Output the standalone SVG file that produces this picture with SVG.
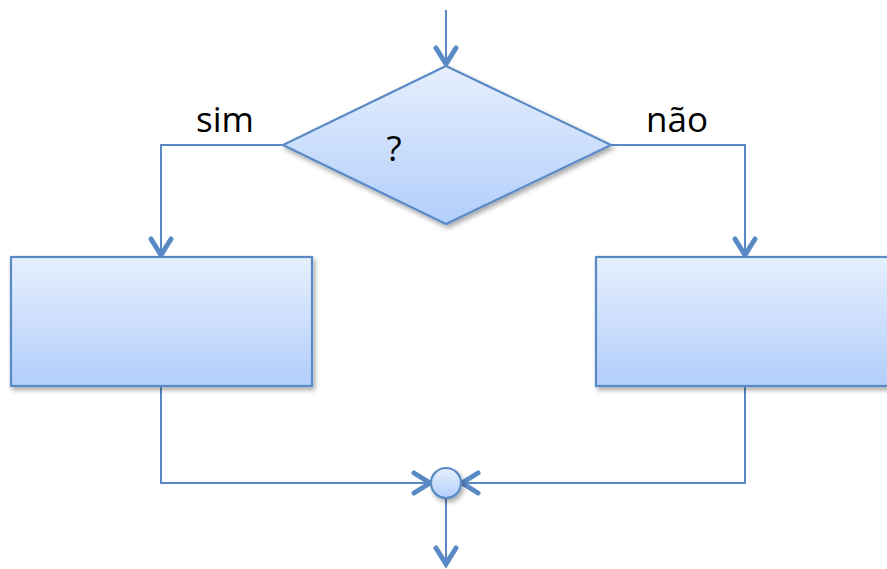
<svg xmlns="http://www.w3.org/2000/svg" width="887" height="569" viewBox="0 0 887 569">
  <defs>
    <linearGradient id="fillGrad" x1="0" y1="0" x2="0" y2="1">
      <stop offset="0" stop-color="#e6effd"/>
      <stop offset="1" stop-color="#b2cefb"/>
    </linearGradient>
    <filter id="shadow" x="-10%" y="-10%" width="130%" height="140%">
      <feGaussianBlur in="SourceAlpha" stdDeviation="2.5"/>
      <feOffset dx="2" dy="3" result="b"/>
      <feComponentTransfer><feFuncA type="linear" slope="0.35"/></feComponentTransfer>
      <feMerge><feMergeNode/><feMergeNode in="SourceGraphic"/></feMerge>
    </filter>
    <!-- open chevron head, tip at the end of the line -->
    <marker id="arrow" viewBox="0 0 26 26" refX="21" refY="13" markerWidth="26" markerHeight="26" markerUnits="userSpaceOnUse" orient="auto">
      <path d="M4,3 L20,13 L4,23" fill="none" stroke="#5a8ac6" stroke-width="5" stroke-linecap="round" stroke-linejoin="miter"/>
    </marker>
  </defs>
  <style>
    .shape { fill: url(#fillGrad); stroke: #5a8ac6; stroke-width: 2.2; filter: url(#shadow); }
    .conn { fill: none; stroke: #5a8ac6; stroke-width: 2; }
    .label { font-family: "Open Sans", "Liberation Sans", sans-serif; font-size: 35px; fill: #000; }
  </style>

  <rect width="887" height="569" fill="#ffffff"/>

  <g id="connectors">
    <path class="conn" d="M446,10 L446,65" marker-end="url(#arrow)"/>
    <path class="conn" d="M283,145 L161,145 L161,256" marker-end="url(#arrow)"/>
    <path class="conn" d="M611,145 L745,145 L745,256" marker-end="url(#arrow)"/>
    <path class="conn" d="M161,386 L161,483 L431,483" marker-end="url(#arrow)"/>
    <path class="conn" d="M745,386 L745,483 L461,483" marker-end="url(#arrow)"/>
    <path class="conn" d="M446,498 L446,565" marker-end="url(#arrow)"/>
  </g>

  <g id="decision">
    <polygon class="shape" points="446,66 611,145 446,224 283,145"/>
    <text class="label" x="394" y="161" text-anchor="middle" font-size="39">?</text>
  </g>

  <g id="label-sim">
    <text class="label" x="225" y="132" text-anchor="middle">sim</text>
  </g>
  <g id="label-nao">
    <text class="label" x="677" y="132" text-anchor="middle">não</text>
  </g>

  <g id="process-yes">
    <rect class="shape" x="11" y="257" width="301" height="129"/>
  </g>

  <g id="process-no">
    <rect class="shape" x="596" y="257" width="300" height="129"/>
  </g>

  <g id="merge">
    <circle class="shape" cx="446" cy="483" r="15"/>
  </g>
</svg>
